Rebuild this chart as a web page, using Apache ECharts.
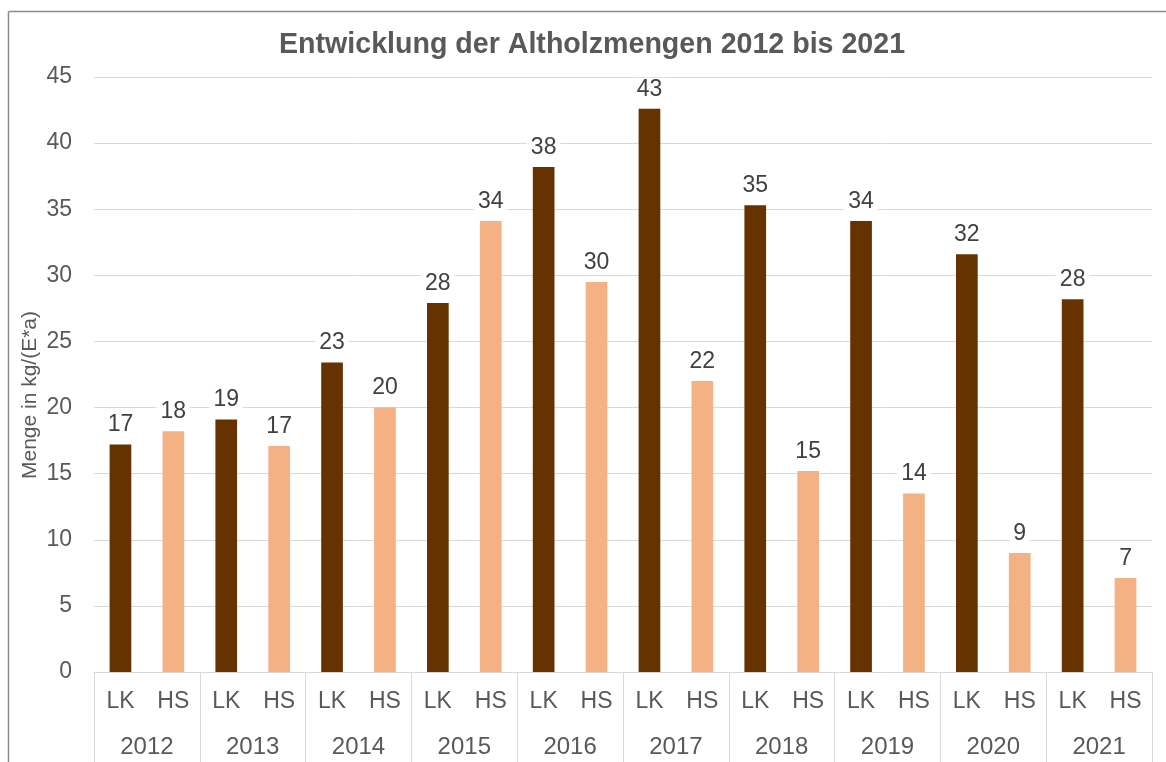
<!DOCTYPE html>
<html>
<head>
<meta charset="utf-8">
<script src="https://cdn.jsdelivr.net/npm/echarts@6/dist/echarts.min.js"></script>
<style>
html,body{margin:0;padding:0;background:#fff;}
#chart{width:1166px;height:762px;}
</style>
</head>
<body>
<div id="chart"></div>
<script>
const years = ['2012','2013','2014','2015','2016','2017','2018','2019','2020','2021'];
const groupLabels = ['LK','HS'];
const lkValues = [17.2, 19.1, 23.4, 27.9, 38.2, 42.6, 35.3, 34.1, 31.6, 28.2];
const hsValues = [18.2, 17.1, 20.0, 34.1, 29.5, 22.0, 15.2, 13.5, 9.0, 7.1];
const yTicks = [0, 5, 10, 15, 20, 25, 30, 35, 40, 45];

const FONT = '"Liberation Sans", Arial, sans-serif';
const TXT = '#595959';
const LK_COLOR = '#663300';
const HS_COLOR = '#F4B183';

const cats = [];
const data = [];
years.forEach((y, i) => {
  cats.push(groupLabels[0]); data.push({value: lkValues[i], itemStyle: {color: LK_COLOR}});
  cats.push(groupLabels[1]); data.push({value: hsValues[i], itemStyle: {color: HS_COLOR}});
});

const chart = echarts.init(document.getElementById('chart'), null, {renderer: 'canvas'});
chart.setOption({
  animation: false,
  backgroundColor: '#ffffff',
  title: {
    text: 'Entwicklung der Altholzmengen 2012 bis 2021',
    left: 274, top: 26,
    textStyle: {fontFamily: FONT, fontSize: 28.6, fontWeight: 'bold', color: TXT}
  },
  grid: {left: 94, right: 14, top: 77, bottom: 90, containLabel: false},
  xAxis: [
    {
      type: 'category', data: cats, position: 'bottom',
      axisLine: {show: true, lineStyle: {color: '#d9d9d9', width: 1}},
      axisTick: {show: false},
      axisLabel: {interval: 0, margin: 18, fontFamily: FONT, fontSize: 23, color: TXT}
    },
    {
      type: 'category', data: years, position: 'bottom', offset: 0,
      axisLine: {show: false},
      axisTick: {show: true, interval: 0, length: 92, lineStyle: {color: '#d9d9d9', width: 1}},
      axisLabel: {interval: 0, margin: 63, fontFamily: FONT, fontSize: 24, color: TXT}
    }
  ],
  yAxis: {
    type: 'value', min: yTicks[0], max: yTicks[yTicks.length - 1], interval: 5,
    axisLine: {show: false}, axisTick: {show: false},
    splitLine: {lineStyle: {color: '#d9d9d9', width: 1}},
    axisLabel: {margin: 22, fontFamily: FONT, fontSize: 23, color: TXT}
  },
  series: [{
    type: 'bar', xAxisIndex: 0, data: data, barWidth: '41%',
    label: {
      show: true, position: 'top', distance: 8,
      formatter: p => Math.round(p.value),
      fontFamily: FONT, fontSize: 23, color: '#404040',
      backgroundColor: '#ffffff', padding: [0, 4]
    }
  }],
  graphic: [
    {type: 'line', shape: {x1: 8.5, y1: 11.5, x2: 8.5, y2: 762}, style: {stroke: '#8c8c8c', lineWidth: 1.5}},
    {type: 'line', shape: {x1: 8.5, y1: 11.5, x2: 1166, y2: 11.5}, style: {stroke: '#8c8c8c', lineWidth: 1.5}},
    {type: 'text', x: 30, y: 395, rotation: Math.PI / 2,
     style: {text: 'Menge in kg/(E*a)', fontFamily: FONT, fontSize: 21, fill: TXT, textAlign: 'center', textVerticalAlign: 'middle'}}
  ]
});
</script>
</body>
</html>
